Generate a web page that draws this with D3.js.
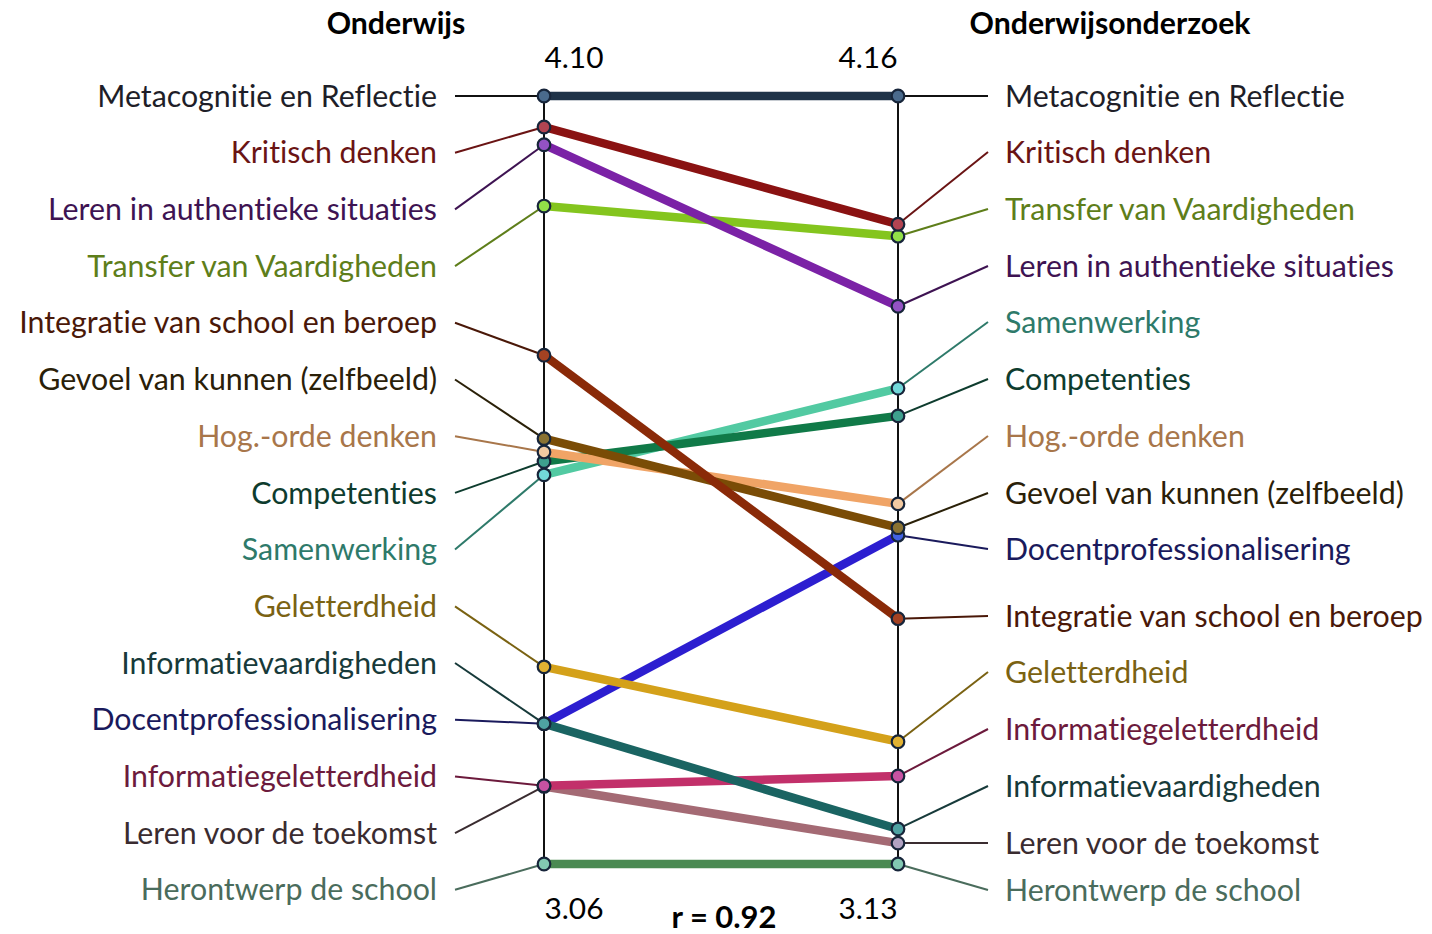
<!DOCTYPE html>
<html><head><meta charset="utf-8">
<script src="https://cdn.jsdelivr.net/npm/d3@7"></script>
<style>html,body{margin:0;padding:0;background:#fff;} svg{display:block;} text{font-variant-ligatures:none;font-feature-settings:"liga" 0;}</style>
</head><body>
<svg id="chart" width="1432" height="934"></svg>
<script>
// ---------- DATA ----------
const categories = [
  "Metacognitie en Reflectie", "Kritisch denken", "Leren in authentieke situaties",
  "Transfer van Vaardigheden", "Integratie van school en beroep", "Gevoel van kunnen (zelfbeeld)",
  "Hog.-orde denken", "Competenties", "Samenwerking", "Geletterdheid",
  "Informatievaardigheden", "Docentprofessionalisering", "Informatiegeletterdheid",
  "Leren voor de toekomst", "Herontwerp de school"
];
const onderwijs = [4.10, 4.058, 4.034, 3.951, 3.749, 3.636, 3.618, 3.605, 3.587, 3.327, 3.250, 3.250, 3.166, 3.165, 3.06];
const onderwijsonderzoek = [4.16, 3.988, 3.878, 3.972, 3.459, 3.581, 3.613, 3.731, 3.768, 3.294, 3.177, 3.571, 3.248, 3.158, 3.13];
const rightOrder = [
  "Metacognitie en Reflectie", "Kritisch denken", "Transfer van Vaardigheden",
  "Leren in authentieke situaties", "Samenwerking", "Competenties", "Hog.-orde denken",
  "Gevoel van kunnen (zelfbeeld)", "Docentprofessionalisering", "Integratie van school en beroep",
  "Geletterdheid", "Informatiegeletterdheid", "Informatievaardigheden",
  "Leren voor de toekomst", "Herontwerp de school"
];
const axisTitles = ["Onderwijs", "Onderwijsonderzoek"];
const leftDomain = [3.06, 4.10];
const rightDomain = [3.13, 4.16];
const leftTickLabels = ["4.10", "3.06"];
const rightTickLabels = ["4.16", "3.13"];
const correlationLabel = "r = 0.92";

// ---------- STYLE ----------
const lineColors = ["#1f3348", "#8a1212", "#7b22a6", "#84c51e", "#8a2a08", "#7a4c06", "#f0a466", "#107a48", "#52caa2", "#d4a11a", "#1a6462", "#2c1ed0", "#c2306a", "#a46a74", "#4b8a52"];
const textColors = ["#1e1e28", "#6a1414", "#3e1352", "#5e7e1a", "#4a1808", "#2a2008", "#a8764a", "#0e3c2e", "#2e7a6a", "#7a6212", "#173a3a", "#1a1a5c", "#6c1a3c", "#3a2c30", "#4a6c5c"];
const markerFills = ["#4a6a8c", "#b24452", "#9452c4", "#92e048", "#a44222", "#8a7232", "#f2caa2", "#3ea08e", "#72d8da", "#e2b232", "#4ea2a2", "#4262e2", "#c852a2", "#b2a2c2", "#82c8b2"];

// ---------- LAYOUT ----------
const xL = 544, xR = 898;
const yTop = 96, yBot = 864;
const labelStartY = 96, labelStep = 56.7;
const rightLabelY = [96, 152, 209, 266, 322, 379, 436, 493, 549, 616, 672, 729, 786, 843, 890];
const fontFam = "Lato, 'Open Sans', sans-serif";

const svg = d3.select("#chart");
const yLeft = d3.scaleLinear().domain(leftDomain).range([yBot, yTop]);
const yRight = d3.scaleLinear().domain(rightDomain).range([yBot, yTop]);
const slotLeft = d3.scalePoint().domain(categories).range([labelStartY, labelStartY + labelStep * 14]);

function fitSize(text, weight, target) {
  const t = svg.append("text").attr("font-family", fontFam).attr("font-weight", weight).attr("font-size", 100).text(text);
  const w = t.node().getComputedTextLength(); t.remove();
  return 100 * target / w;
}
const labelSize = fitSize("Metacognitie en Reflectie", 400, 340);
const numSize = fitSize("4.10", 400, 59);
const titleSize = fitSize("Onderwijsonderzoek", 700, 281);
const rSize = fitSize("r = 0.92", 700, 105);

const data = categories.map((c, i) => ({
  name: c, l: onderwijs[i], r: onderwijsonderzoek[i],
  line: lineColors[i], text: textColors[i], fill: markerFills[i],
  ly: slotLeft(c), ry: rightLabelY[rightOrder.indexOf(c)]
}));

// axes (vertical lines)
svg.append("line").attr("x1", xL).attr("x2", xL).attr("y1", yLeft(leftDomain[1])).attr("y2", yLeft(leftDomain[0])).attr("stroke", "#111").attr("stroke-width", 2);
svg.append("line").attr("x1", xR).attr("x2", xR).attr("y1", yRight(rightDomain[1])).attr("y2", yRight(rightDomain[0])).attr("stroke", "#111").attr("stroke-width", 2);

// connectors
svg.append("g").selectAll("line").data(data).join("line")
  .attr("x1", 455).attr("y1", d => d.ly).attr("x2", xL).attr("y2", d => yLeft(d.l))
  .attr("stroke", (d, i) => i === 0 ? "#111" : d.text).attr("stroke-width", 2);
svg.append("g").selectAll("line").data(data).join("line")
  .attr("x1", xR).attr("y1", d => yRight(d.r)).attr("x2", 988).attr("y2", d => d.ry)
  .attr("stroke", (d, i) => i === 0 ? "#111" : d.text).attr("stroke-width", 2);

// slope lines
svg.append("g").selectAll("line").data(data.slice().reverse()).join("line")
  .attr("x1", xL).attr("y1", d => yLeft(d.l)).attr("x2", xR).attr("y2", d => yRight(d.r))
  .attr("stroke", d => d.line).attr("stroke-width", 8.5).attr("stroke-linecap", "butt");

// markers
const mk = svg.append("g");
mk.selectAll("circle.l").data(data.slice().reverse()).join("circle").attr("class", "l")
  .attr("cx", xL).attr("cy", d => yLeft(d.l)).attr("r", 6.3)
  .attr("fill", d => d.fill).attr("stroke", "#17253a").attr("stroke-width", 2.2);
mk.selectAll("circle.r").data(data.slice().reverse()).join("circle").attr("class", "r")
  .attr("cx", xR).attr("cy", d => yRight(d.r)).attr("r", 6.3)
  .attr("fill", d => d.fill).attr("stroke", "#17253a").attr("stroke-width", 2.2);

// labels
svg.append("g").selectAll("text").data(data).join("text")
  .attr("x", 437).attr("y", d => d.ly).attr("dy", "0.35em")
  .attr("text-anchor", "end").attr("font-family", fontFam).attr("font-size", labelSize)
  .attr("fill", d => d.text).text(d => d.name);
svg.append("g").selectAll("text").data(data).join("text")
  .attr("x", 1005).attr("y", d => d.ry).attr("dy", "0.35em")
  .attr("text-anchor", "start").attr("font-family", fontFam).attr("font-size", labelSize)
  .attr("fill", d => d.text).text(d => d.name);

// titles
svg.append("text").attr("x", 396).attr("y", 23).attr("dy", "0.35em").attr("text-anchor", "middle")
  .attr("font-family", fontFam).attr("font-weight", 700).attr("font-size", titleSize).attr("fill", "#000").text(axisTitles[0]);
svg.append("text").attr("x", 1110).attr("y", 23).attr("dy", "0.35em").attr("text-anchor", "middle")
  .attr("font-family", fontFam).attr("font-weight", 700).attr("font-size", titleSize).attr("fill", "#000").text(axisTitles[1]);

// extreme value labels
const numText = (x, y, t) => svg.append("text").attr("x", x).attr("y", y).attr("dy", "0.35em").attr("text-anchor", "middle")
  .attr("font-family", fontFam).attr("font-size", numSize).attr("fill", "#000").text(t);
numText(574, 58, leftTickLabels[0]);
numText(574, 909, leftTickLabels[1]);
numText(868, 58, rightTickLabels[0]);
numText(868, 909, rightTickLabels[1]);
svg.append("text").attr("x", 724).attr("y", 917).attr("dy", "0.35em").attr("text-anchor", "middle")
  .attr("font-family", fontFam).attr("font-weight", 700).attr("font-size", rSize).attr("fill", "#000").text(correlationLabel);
</script>
</body></html>
